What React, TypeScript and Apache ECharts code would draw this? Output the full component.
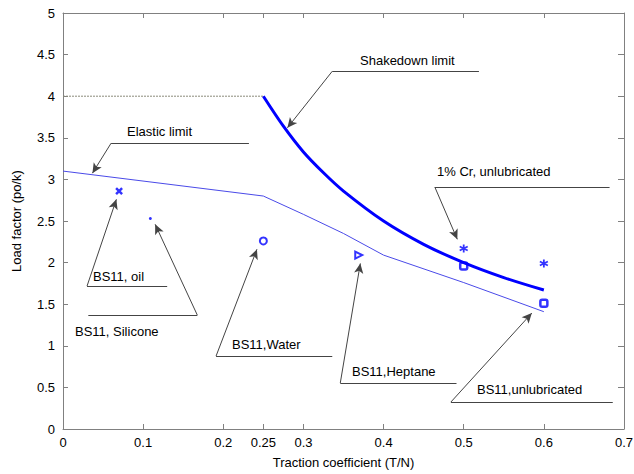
import React, { useEffect, useRef } from "react";
import * as echarts from "echarts";

const xTicks = [0, 0.1, 0.2, 0.25, 0.3, 0.4, 0.5, 0.6, 0.7];

const thresholdX = [0, 0.25];
const thresholdY = [4, 4];

const shakedownX = [0.25, 0.275, 0.3, 0.325, 0.35, 0.4, 0.45, 0.5, 0.55, 0.6];
const shakedownY = [4, 3.64, 3.33, 3.08, 2.86, 2.5, 2.22, 2.0, 1.82, 1.67];

const elasticX = [0, 0.25, 0.3, 0.35, 0.4, 0.5, 0.6];
const elasticY = [3.1, 2.8, 2.58, 2.35, 2.09, 1.76, 1.41];

const oilPts = [[0.07, 2.86]];
const siliconePts = [[0.109, 2.53]];
const waterPts = [[0.25, 2.26]];
const heptanePts = [[0.369, 2.09]];
const unlubPts = [[0.5, 1.96], [0.6, 1.51]];
const crPts = [[0.5, 2.17], [0.6, 1.99]];

// annotation leader lines (data coords): underline start, underline end, arrow tip
const annotations = [
  { text: "Shakedown limit", left: 360, top: 60, a: [0.336, 4.3], b: [0.519, 4.3], tip: [0.28, 3.62], from: "a" },
  { text: "Elastic limit", left: 127, top: 131, a: [0.06, 3.435], b: [0.232, 3.435], tip: [0.0367, 3.075], from: "a" },
  { text: "1% Cr, unlubricated", left: 437, top: 171, a: [0.464, 2.907], b: [0.682, 2.907], tip: [0.492, 2.28], from: "a" },
  { text: "BS11, oil", left: 93, top: 276, a: [0.03, 1.718], b: [0.13, 1.718], tip: [0.0666, 2.76], from: "a" },
  { text: "BS11, Silicone", left: 75, top: 331, a: [0.0316, 1.369], b: [0.1676, 1.369], tip: [0.115, 2.46], from: "b" },
  { text: "BS11,Water", left: 232, top: 344, a: [0.191, 0.877], b: [0.336, 0.877], tip: [0.242, 2.16], from: "a" },
  { text: "BS11,Heptane", left: 352, top: 371, a: [0.346, 0.553], b: [0.491, 0.553], tip: [0.371, 1.99], from: "a" },
  { text: "BS11,unlubricated", left: 477, top: 389, a: [0.484, 0.324], b: [0.686, 0.324], tip: [0.585, 1.393], from: "a" },
];

const FONT = "Liberation Sans, Arial, sans-serif";
const BLUE = "#0000ff";
const AXIS = "#808080";

export default function App() {
  const ref = useRef<HTMLDivElement>(null);
  useEffect(() => {
    if (!ref.current) return;
    const chart = echarts.init(ref.current, undefined, { renderer: "svg" });

    const markData: any[] = [];
    annotations.forEach((an) => {
      markData.push([
        { coord: an.a, symbol: "none" },
        { coord: an.b, symbol: "none" },
      ]);
      const start = an.from === "a" ? an.a : an.b;
      markData.push([
        { coord: start, symbol: "none" },
        { coord: an.tip, symbol: "arrow" },
      ]);
    });

    const axisCommon = {
      min: 0,
      axisLine: { show: true, onZero: false, lineStyle: { color: AXIS, width: 1 } },
      splitLine: { show: false },
    };

    chart.setOption({
      animation: false,
      backgroundColor: "#fff",
      textStyle: { fontFamily: FONT },
      grid: { left: 63, top: 13, right: 10, bottom: 45, containLabel: false, outerBoundsMode: "none" },
      xAxis: [
        {
          ...axisCommon,
          type: "value",
          max: 0.7,
          position: "bottom",
          name: "Traction coefficient (T/N)",
          nameLocation: "middle",
          nameGap: 27,
          nameTextStyle: { fontSize: 13, color: "#000", fontFamily: FONT },
          axisTick: { show: true, inside: true, length: 5, customValues: xTicks, lineStyle: { color: AXIS } },
          axisLabel: {
            show: true,
            customValues: xTicks,
            fontSize: 13,
            color: "#000",
            fontFamily: FONT,
            margin: 7,
            formatter: (v: number) => String(Math.round(v * 100) / 100),
          },
        },
        {
          ...axisCommon,
          type: "value",
          max: 0.7,
          position: "top",
          axisTick: { show: true, inside: true, length: 5, customValues: xTicks, lineStyle: { color: AXIS } },
          axisLabel: { show: false },
        },
      ],
      yAxis: [
        {
          ...axisCommon,
          type: "value",
          max: 5,
          interval: 0.5,
          position: "left",
          name: "Load factor (po/k)",
          nameLocation: "middle",
          nameGap: 40,
          nameTextStyle: { fontSize: 13, color: "#000", fontFamily: FONT },
          axisTick: { show: true, inside: true, length: 5, lineStyle: { color: AXIS } },
          axisLabel: { fontSize: 13, color: "#000", fontFamily: FONT, margin: 8 },
        },
        {
          ...axisCommon,
          type: "value",
          max: 5,
          interval: 0.5,
          position: "right",
          axisTick: { show: true, inside: true, length: 6, lineStyle: { color: AXIS } },
          axisLabel: { show: false },
        },
      ],
      graphic: annotations.map((an) => ({
        type: "text",
        x: an.left,
        y: an.top,
        style: {
          text: an.text,
          font: `13px ${FONT}`,
          fill: "#000",
          verticalAlign: "middle",
          align: "left",
        },
      })),
      series: [
        {
          type: "line",
          data: thresholdX.map((x, i) => [x, thresholdY[i]]),
          showSymbol: false,
          lineStyle: { color: "#8a8a7a", width: 1, type: [2, 1] },
        },
        {
          type: "line",
          data: shakedownX.map((x, i) => [x, shakedownY[i]]),
          showSymbol: false,
          smooth: 0.3,
          lineStyle: { color: BLUE, width: 3 },
        },
        {
          type: "line",
          data: elasticX.map((x, i) => [x, elasticY[i]]),
          showSymbol: false,
          lineStyle: { color: "#4a4ae8", width: 1 },
        },
        {
          type: "scatter",
          data: oilPts,
          symbol: "path://M0,0L10,10M10,0L0,10",
          symbolSize: 6,
          itemStyle: { color: "none", borderColor: BLUE, borderWidth: 2.5 },
        },
        {
          type: "scatter",
          data: siliconePts,
          symbol: "circle",
          symbolSize: 3,
          itemStyle: { color: BLUE },
        },
        {
          type: "scatter",
          data: waterPts,
          symbol: "circle",
          symbolSize: 7,
          itemStyle: { color: "#fff", borderColor: BLUE, borderWidth: 2 },
        },
        {
          type: "scatter",
          data: heptanePts,
          symbol: "path://M0,0L9,5L0,10Z",
          symbolSize: 7,
          itemStyle: { color: "#fff", borderColor: BLUE, borderWidth: 2 },
        },
        {
          type: "scatter",
          data: unlubPts,
          symbol: "roundRect",
          symbolSize: 7,
          itemStyle: { color: "#fff", borderColor: BLUE, borderWidth: 2.5 },
        },
        {
          type: "scatter",
          data: crPts,
          symbol: "path://M5,0L5,10M0.7,2.5L9.3,7.5M0.7,7.5L9.3,2.5",
          symbolSize: 8,
          itemStyle: { color: "none", borderColor: BLUE, borderWidth: 1.8 },
        },
        {
          type: "scatter",
          data: [],
          markLine: {
            silent: true,
            symbolSize: [7, 10],
            label: { show: false },
            lineStyle: { color: "#444", width: 1, type: "solid" },
            itemStyle: { color: "#000" },
            emphasis: { disabled: true },
            data: markData,
          },
        },
      ],
    });
    return () => chart.dispose();
  }, []);
  return <div ref={ref} style={{ width: 634, height: 474, position: "absolute", left: 0, top: 0 }} />;
}
